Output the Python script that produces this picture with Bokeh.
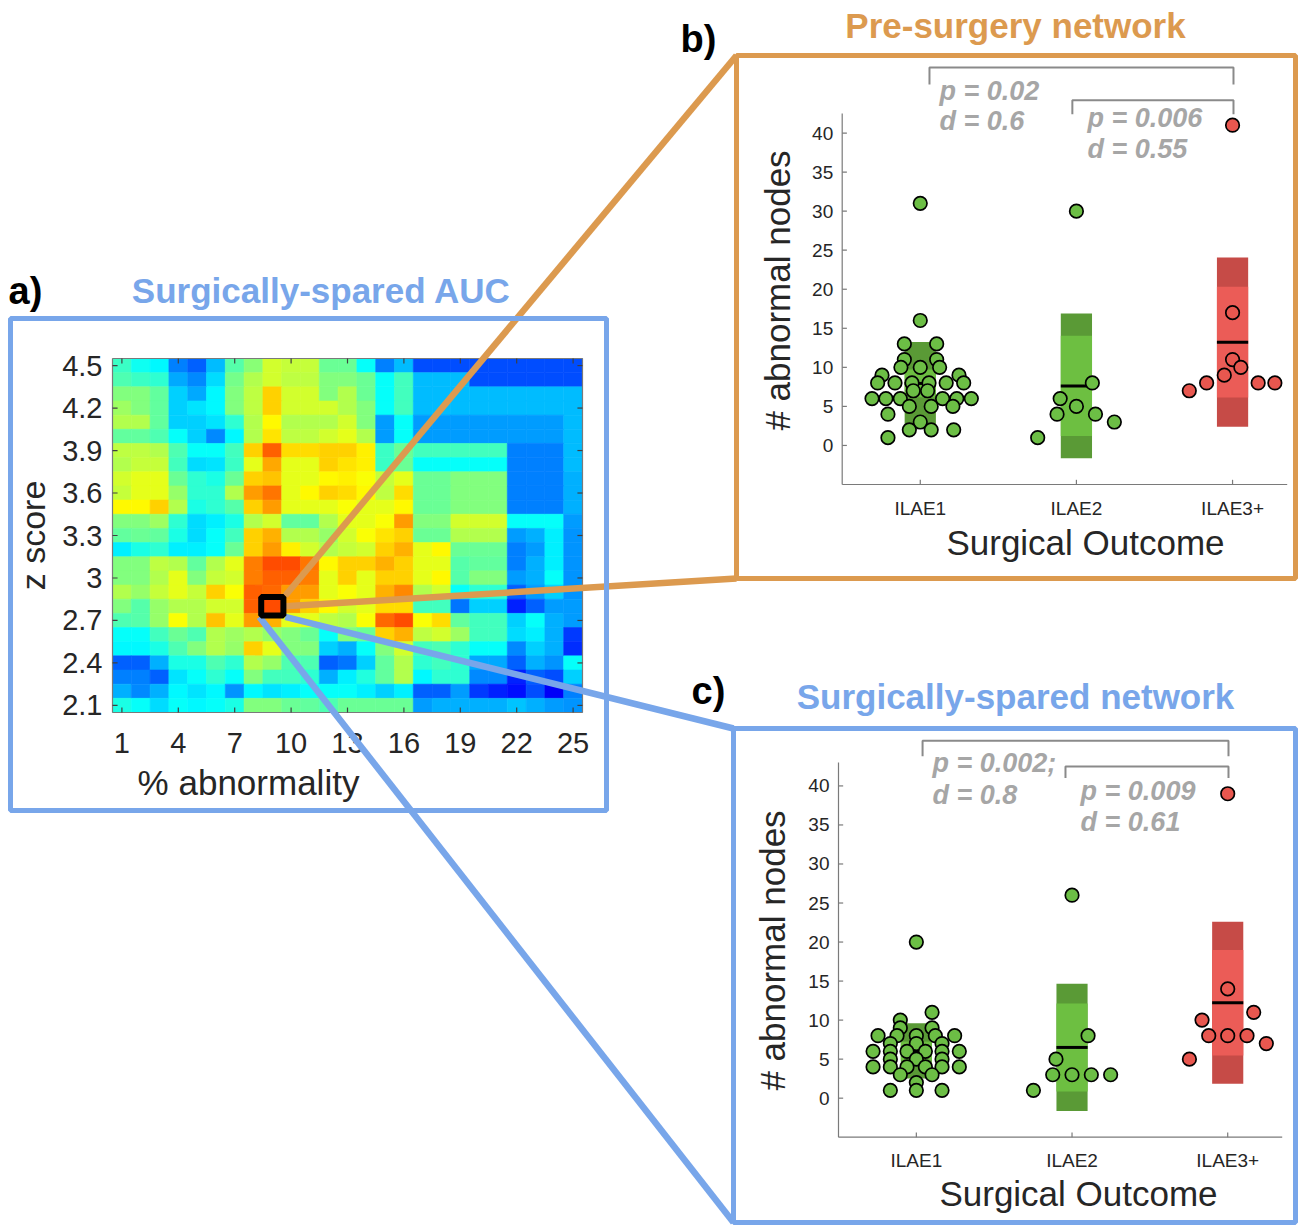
import numpy as np
from bokeh.plotting import figure
from bokeh.models import Range1d, ColumnDataSource, LinearColorMapper
from bokeh.core.properties import value
from bokeh.embed import file_html
from bokeh.resources import INLINE

# ---------------------------------------------------------------- data
pct_abnormality = list(range(1, 26))
z_scores = [4.5, 4.4, 4.3, 4.2, 4.1, 4.0, 3.9, 3.8, 3.7, 3.6, 3.5, 3.4, 3.3,
            3.2, 3.1, 3.0, 2.9, 2.8, 2.7, 2.6, 2.5, 2.4, 2.3, 2.2, 2.1]
# AUC (colour-scaled 0..1), one row per z score (top row = 4.5), one column per % abnormality
auc_rows = [
    [0.43, 0.39, 0.37, 0.25, 0.22, 0.31, 0.46, 0.51, 0.58, 0.57, 0.57, 0.48, 0.48, 0.38, 0.25, 0.31, 0.20, 0.20, 0.20, 0.20, 0.20, 0.20, 0.20, 0.20, 0.20],
    [0.45, 0.43, 0.42, 0.29, 0.26, 0.34, 0.49, 0.55, 0.58, 0.56, 0.56, 0.50, 0.50, 0.48, 0.38, 0.44, 0.31, 0.31, 0.31, 0.20, 0.20, 0.20, 0.20, 0.20, 0.20],
    [0.50, 0.50, 0.47, 0.33, 0.29, 0.37, 0.50, 0.56, 0.67, 0.58, 0.58, 0.50, 0.55, 0.48, 0.38, 0.44, 0.31, 0.31, 0.31, 0.31, 0.31, 0.31, 0.31, 0.31, 0.31],
    [0.53, 0.50, 0.47, 0.33, 0.35, 0.37, 0.50, 0.56, 0.67, 0.58, 0.58, 0.58, 0.55, 0.50, 0.38, 0.44, 0.31, 0.31, 0.31, 0.31, 0.31, 0.31, 0.31, 0.31, 0.31],
    [0.55, 0.55, 0.47, 0.33, 0.33, 0.35, 0.42, 0.55, 0.63, 0.55, 0.55, 0.55, 0.58, 0.50, 0.28, 0.38, 0.28, 0.28, 0.28, 0.28, 0.28, 0.28, 0.28, 0.28, 0.31],
    [0.47, 0.47, 0.45, 0.38, 0.33, 0.26, 0.37, 0.55, 0.65, 0.56, 0.56, 0.58, 0.60, 0.55, 0.28, 0.38, 0.28, 0.28, 0.28, 0.28, 0.28, 0.28, 0.28, 0.28, 0.31],
    [0.56, 0.56, 0.55, 0.45, 0.38, 0.38, 0.44, 0.67, 0.78, 0.66, 0.66, 0.67, 0.67, 0.64, 0.43, 0.48, 0.44, 0.44, 0.44, 0.44, 0.44, 0.25, 0.25, 0.25, 0.31],
    [0.55, 0.57, 0.57, 0.44, 0.34, 0.35, 0.43, 0.60, 0.71, 0.60, 0.60, 0.67, 0.65, 0.64, 0.43, 0.48, 0.38, 0.38, 0.38, 0.38, 0.38, 0.25, 0.25, 0.25, 0.31],
    [0.58, 0.60, 0.60, 0.48, 0.42, 0.40, 0.48, 0.67, 0.68, 0.60, 0.60, 0.63, 0.64, 0.62, 0.57, 0.60, 0.48, 0.48, 0.50, 0.50, 0.50, 0.25, 0.25, 0.25, 0.30],
    [0.57, 0.60, 0.60, 0.52, 0.42, 0.42, 0.55, 0.72, 0.76, 0.60, 0.63, 0.67, 0.66, 0.63, 0.56, 0.66, 0.48, 0.48, 0.50, 0.50, 0.50, 0.25, 0.25, 0.25, 0.30],
    [0.63, 0.63, 0.67, 0.55, 0.40, 0.42, 0.46, 0.67, 0.72, 0.60, 0.60, 0.60, 0.62, 0.60, 0.60, 0.63, 0.48, 0.48, 0.50, 0.50, 0.50, 0.25, 0.25, 0.25, 0.30],
    [0.50, 0.50, 0.53, 0.42, 0.34, 0.36, 0.40, 0.55, 0.58, 0.47, 0.47, 0.55, 0.60, 0.60, 0.62, 0.72, 0.50, 0.50, 0.58, 0.58, 0.58, 0.38, 0.38, 0.38, 0.28],
    [0.47, 0.48, 0.47, 0.40, 0.34, 0.38, 0.44, 0.67, 0.70, 0.55, 0.55, 0.52, 0.58, 0.62, 0.65, 0.67, 0.48, 0.48, 0.55, 0.55, 0.55, 0.28, 0.30, 0.36, 0.27],
    [0.36, 0.40, 0.42, 0.36, 0.36, 0.38, 0.48, 0.67, 0.72, 0.64, 0.58, 0.55, 0.57, 0.58, 0.67, 0.70, 0.60, 0.63, 0.48, 0.48, 0.48, 0.25, 0.28, 0.36, 0.27],
    [0.50, 0.50, 0.56, 0.55, 0.47, 0.55, 0.60, 0.75, 0.80, 0.80, 0.76, 0.63, 0.67, 0.67, 0.70, 0.67, 0.60, 0.60, 0.46, 0.47, 0.47, 0.25, 0.30, 0.36, 0.27],
    [0.50, 0.50, 0.55, 0.60, 0.50, 0.57, 0.58, 0.75, 0.78, 0.78, 0.75, 0.60, 0.67, 0.60, 0.67, 0.67, 0.60, 0.63, 0.46, 0.50, 0.50, 0.28, 0.30, 0.38, 0.27],
    [0.55, 0.52, 0.57, 0.60, 0.57, 0.67, 0.62, 0.78, 0.77, 0.72, 0.72, 0.60, 0.62, 0.60, 0.70, 0.74, 0.55, 0.58, 0.38, 0.42, 0.42, 0.22, 0.28, 0.33, 0.27],
    [0.50, 0.46, 0.52, 0.55, 0.55, 0.58, 0.58, 0.78, 0.80, 0.72, 0.67, 0.63, 0.58, 0.60, 0.66, 0.66, 0.44, 0.44, 0.24, 0.33, 0.33, 0.16, 0.22, 0.28, 0.28],
    [0.45, 0.46, 0.52, 0.62, 0.55, 0.68, 0.60, 0.72, 0.70, 0.60, 0.60, 0.56, 0.55, 0.62, 0.77, 0.80, 0.62, 0.66, 0.47, 0.44, 0.44, 0.33, 0.38, 0.30, 0.28],
    [0.38, 0.38, 0.44, 0.48, 0.45, 0.55, 0.53, 0.55, 0.52, 0.50, 0.48, 0.38, 0.50, 0.48, 0.67, 0.70, 0.56, 0.58, 0.53, 0.44, 0.44, 0.34, 0.36, 0.30, 0.18],
    [0.37, 0.37, 0.40, 0.45, 0.50, 0.55, 0.52, 0.67, 0.60, 0.50, 0.50, 0.33, 0.30, 0.38, 0.50, 0.58, 0.44, 0.45, 0.42, 0.38, 0.38, 0.26, 0.33, 0.30, 0.17],
    [0.22, 0.22, 0.30, 0.40, 0.40, 0.45, 0.42, 0.55, 0.52, 0.45, 0.45, 0.22, 0.24, 0.33, 0.47, 0.55, 0.42, 0.44, 0.42, 0.29, 0.29, 0.22, 0.30, 0.27, 0.38],
    [0.25, 0.25, 0.22, 0.35, 0.38, 0.42, 0.38, 0.50, 0.44, 0.44, 0.42, 0.30, 0.36, 0.41, 0.47, 0.55, 0.37, 0.42, 0.42, 0.26, 0.26, 0.16, 0.22, 0.20, 0.33],
    [0.30, 0.26, 0.30, 0.37, 0.35, 0.37, 0.27, 0.37, 0.35, 0.36, 0.38, 0.38, 0.38, 0.36, 0.33, 0.36, 0.22, 0.22, 0.28, 0.18, 0.16, 0.14, 0.20, 0.12, 0.25],
    [0.40, 0.38, 0.34, 0.38, 0.37, 0.38, 0.40, 0.50, 0.50, 0.48, 0.47, 0.45, 0.48, 0.48, 0.48, 0.48, 0.28, 0.30, 0.30, 0.30, 0.30, 0.32, 0.30, 0.28, 0.27],
]
x_ticks_a = [1, 4, 7, 10, 13, 16, 19, 22, 25]
y_ticks_a = [2.1, 2.4, 2.7, 3.0, 3.3, 3.6, 3.9, 4.2, 4.5]
y_tick_labels_a = ["2.1", "2.4", "2.7", "3", "3.3", "3.6", "3.9", "4.2", "4.5"]
selected_pct = 9
selected_z = 2.8

outcomes = ["ILAE1", "ILAE2", "ILAE3+"]
count_ticks = [0, 5, 10, 15, 20, 25, 30, 35, 40]

# b) pre-surgery network: # abnormal nodes per patient, with swarm offsets
pre_ilae1 = [31, 16, 13, 13, 11, 11, 10, 10, 10, 9, 9, 8, 8, 8, 8, 8, 8, 7, 7,
             6, 6, 6, 6, 6, 6, 5, 5, 5, 4, 3, 2, 2, 2, 1]
pre_ilae1_jit = [0, 0, -0.102, 0.105, -0.102, 0.105, -0.124, 0, 0.124, -0.245, 0.248,
                 -0.273, -0.162, -0.053, 0.056, 0.166, 0.278, -0.045, 0.047,
                 -0.309, -0.220, -0.128, 0.143, 0.234, 0.327, -0.070, 0.070, 0.209,
                 -0.207, 0, -0.070, 0.070, 0.214, -0.207]
pre_ilae2 = [30, 8, 6, 5, 4, 4, 3, 1]
pre_ilae2_jit = [0, 0.102, -0.104, 0, -0.124, 0.122, 0.243, -0.248]
pre_ilae3 = [41, 17, 11, 10, 9, 8, 8, 8, 7]
pre_ilae3_jit = [0, 0, 0, 0.053, -0.053, -0.166, 0.164, 0.271, -0.277]
pre_stats = ["p = 0.02", "d = 0.6", "p = 0.006", "d = 0.55"]

# c) surgically-spared network
spr_ilae1 = [20, 11, 10, 9, 9, 8, 8, 8, 8, 8, 7, 7, 7, 6, 6, 6, 6, 6, 6,
             5, 5, 5, 4, 4, 4, 4, 4, 4, 3, 3, 2, 1, 1, 1]
spr_ilae1_jit = [0, 0.101, -0.103, -0.103, 0.101, -0.246, -0.124, 0, 0.122, 0.246,
                 -0.167, 0, 0.165, -0.278, -0.167, -0.060, 0.058, 0.165, 0.276,
                 -0.167, 0, 0.165, -0.278, -0.167, -0.060, 0.058, 0.165, 0.276,
                 -0.103, 0.101, 0, -0.167, 0, 0.165]
spr_ilae2 = [26, 8, 5, 3, 3, 3, 3, 1]
spr_ilae2_jit = [0, 0.103, -0.103, -0.124, 0, 0.124, 0.248, -0.248]
spr_ilae3 = [39, 14, 11, 10, 8, 8, 8, 7, 5]
spr_ilae3_jit = [0, 0, 0.167, -0.165, -0.122, 0, 0.124, 0.248, -0.246]
spr_stats = ["p = 0.002;", "d = 0.8", "p = 0.009", "d = 0.61"]

# ---------------------------------------------------------------- styles
FONT = value("Liberation Sans")
BLUE = "#78a6ea"
ORANGE = "#dc9a4f"
GREY_TXT = "#a6a6a6"
GREY_BR = "#8a8a8a"
AX = "#7a7a7a"
TXT = "#262626"
GREEN_PT, GREEN_SD, GREEN_CI = "#6cbe45", "#5a9a36", "#6dbf41"
RED_PT, RED_SD, RED_CI = "#e8574f", "#c64b47", "#eb5c57"


def jet_hex(v):
    r = np.clip(1.5 - abs(4 * v - 3), 0, 1)
    g = np.clip(1.5 - abs(4 * v - 2), 0, 1)
    b = np.clip(1.5 - abs(4 * v - 1), 0, 1)
    return "#%02x%02x%02x" % (int(round(r * 255)), int(round(g * 255)), int(round(b * 255)))


JET = [jet_hex(i / 255) for i in range(256)]

W, H = 1298, 1225
p = figure(width=W, height=H, x_range=Range1d(0, W), y_range=Range1d(H, 0),
           output_backend="svg", toolbar_location=None, min_border=0,
           x_axis_location=None, y_axis_location=None,
           background_fill_color="white", border_fill_color="white")
p.grid.visible = False
p.outline_line_color = None


def label(target, x, y, text, size, color=TXT, style="normal", align="center",
          baseline="middle", angle=0.0, x_offset=0, y_offset=0):
    target.text(x=list(x), y=list(y), text=list(text), text_font=FONT,
                text_font_size=f"{size}px", text_color=color, text_font_style=style,
                text_align=align, text_baseline=baseline, angle=angle,
                x_offset=x_offset, y_offset=y_offset)


# ---------------------------------------------------------------- a) heatmap
A_X = (0.5, 25.5)
A_Y = (2.05, 4.55)
A_PX = (112, 582)
A_PY = (712, 358)
sa = p.subplot(x_source=Range1d(*A_X), y_source=Range1d(*A_Y),
               x_target=Range1d(*A_PX), y_target=Range1d(*A_PY))

auc = np.array(auc_rows, dtype=float)
src = ColumnDataSource(dict(
    pct=np.tile(pct_abnormality, len(z_scores)),
    z=np.repeat(z_scores, len(pct_abnormality)),
    auc=auc.ravel(),
))
mapper = LinearColorMapper(palette=JET, low=0, high=1)
sa.rect(x="pct", y="z", width=1, height=0.1, source=src,
        fill_color={"field": "auc", "transform": mapper},
        line_color={"field": "auc", "transform": mapper}, line_width=0.6)

# frame + inward ticks
sa.segment(x0=[A_X[0], A_X[0], A_X[0], A_X[1]], y0=[A_Y[0], A_Y[1], A_Y[0], A_Y[0]],
           x1=[A_X[1], A_X[1], A_X[0], A_X[1]], y1=[A_Y[0], A_Y[1], A_Y[1], A_Y[1]],
           line_color=AX, line_width=1.2)
tx = np.array(x_ticks_a, float)
ty = np.array(y_ticks_a, float)
sa.segment(x0=np.r_[tx, tx], y0=np.r_[np.full(len(tx), A_Y[0]), np.full(len(tx), A_Y[1])],
           x1=np.r_[tx, tx], y1=np.r_[np.full(len(tx), A_Y[0] + 0.035), np.full(len(tx), A_Y[1] - 0.035)],
           line_color="#404040", line_width=1.2)
sa.segment(x0=np.r_[np.full(len(ty), A_X[0]), np.full(len(ty), A_X[1])], y0=np.r_[ty, ty],
           x1=np.r_[np.full(len(ty), A_X[0] + 0.27), np.full(len(ty), A_X[1] - 0.27)], y1=np.r_[ty, ty],
           line_color="#404040", line_width=1.2)
label(sa, [A_X[0]] * len(ty), ty, y_tick_labels_a, 29, align="right", x_offset=-10)
label(sa, tx, [A_Y[0]] * len(tx), [str(t) for t in x_ticks_a], 29, baseline="top", y_offset=20)
label(p, [248], [782], ["% abnormality"], 35)
label(p, [32], [535], ["z score"], 34, angle=np.pi / 2)


def a_to_px(xv, yv):
    fx = A_PX[0] + (xv - A_X[0]) / (A_X[1] - A_X[0]) * (A_PX[1] - A_PX[0])
    fy = A_PY[0] + (yv - A_Y[0]) / (A_Y[1] - A_Y[0]) * (A_PY[1] - A_PY[0])
    return fx, fy


# connecting lines from the selected cell to the panels b) and c)
cl, ct = a_to_px(selected_pct - 0.5, selected_z + 0.05)
cr, cb = a_to_px(selected_pct + 0.5, selected_z - 0.05)
pad = 3.5
B_BOX = (736, 55, 1295, 578)
C_BOX = (733, 728, 1295, 1222)
A_BOX = (10, 318, 606, 810)
p.segment(x0=[cr + pad, cr + pad], y0=[ct - pad, (ct + cb) / 2],
          x1=[B_BOX[0], B_BOX[0]], y1=[B_BOX[1], B_BOX[3]],
          line_color=ORANGE, line_width=6.5)
p.segment(x0=[cr + pad, cl - pad], y0=[cb + pad, cb + pad],
          x1=[C_BOX[0], C_BOX[0]], y1=[C_BOX[1], C_BOX[3]],
          line_color=BLUE, line_width=6.5)
sa.rect(x=[selected_pct], y=[selected_z], width=1.18, height=0.13,
        fill_color=None, line_color="black", line_width=6)

# panel frames and titles
for (l, t, r, b), col in ((A_BOX, BLUE), (B_BOX, ORANGE), (C_BOX, BLUE)):
    p.quad(left=[l], right=[r], top=[t], bottom=[b], fill_color=None,
           line_color=col, line_width=5)
label(p, [8], [290], ["a)"], 38, color="black", style="bold", align="left")
label(p, [321], [290], ["Surgically-spared AUC"], 35, color=BLUE, style="bold")
label(p, [680], [38], ["b)"], 38, color="black", style="bold", align="left")
label(p, [1015], [25], ["Pre-surgery network"], 35, color=ORANGE, style="bold")
label(p, [691], [690], ["c)"], 38, color="black", style="bold", align="left")
label(p, [1015], [696], ["Surgically-spared network"], 35, color=BLUE, style="bold")


# ---------------------------------------------------------------- b), c) strip plots
def strip_panel(xt, yt, ylim, groups, stats, stat_pos, brackets, ylab_pos, xlab_pos):
    xlim = (0.5, 3.35)
    sp = p.subplot(x_source=Range1d(*xlim), y_source=Range1d(*ylim),
                   x_target=Range1d(*xt), y_target=Range1d(*yt))
    # axes
    sp.segment(x0=[xlim[0], xlim[0]], y0=[ylim[0], ylim[0]], x1=[xlim[0], xlim[1]],
               y1=[ylim[1], ylim[0]], line_color=AX, line_width=1.2)
    ct_ = np.array(count_ticks, float)
    sp.segment(x0=np.full(len(ct_), xlim[0]), y0=ct_, x1=np.full(len(ct_), xlim[0] + 0.03),
               y1=ct_, line_color=AX, line_width=1.2)
    sp.segment(x0=[1, 2, 3], y0=[ylim[0]] * 3, x1=[1, 2, 3], y1=[ylim[0] + 0.6] * 3,
               line_color=AX, line_width=1.2)
    label(sp, [xlim[0]] * len(ct_), ct_, [str(c) for c in count_ticks], 19,
          align="right", x_offset=-9)
    label(sp, [1, 2, 3], [ylim[0]] * 3, outcomes, 19, baseline="top", y_offset=13)
    label(p, [ylab_pos[0]], [ylab_pos[1]], ["# abnormal nodes"], 35, angle=np.pi / 2)
    label(p, [xlab_pos[0]], [xlab_pos[1]], ["Surgical Outcome"], 35)
    # groups
    for i, (vals, jit, pt, sd_c, ci_c) in enumerate(groups):
        xc = i + 1
        v = np.array(vals, float)
        m = v.mean()
        sd = v.std(ddof=1)
        ci = 1.96 * sd / np.sqrt(len(v))
        sp.quad(left=[xc - 0.1], right=[xc + 0.1], bottom=[m - sd], top=[m + sd],
                fill_color=sd_c, line_color=None)
        sp.quad(left=[xc - 0.1], right=[xc + 0.1], bottom=[m - ci], top=[m + ci],
                fill_color=ci_c, line_color=None)
        sp.segment(x0=[xc - 0.1], y0=[m], x1=[xc + 0.1], y1=[m], line_color="black",
                   line_width=3)
        sp.scatter(x=xc + np.array(jit), y=v, size=13.5, fill_color=pt,
                   line_color="black", line_width=1.7)
    # significance brackets
    for (xa, xb, yb, ydrop) in brackets:
        sp.multi_line(xs=[[xa, xa, xb, xb]], ys=[[yb - ydrop, yb, yb, yb - ydrop]],
                      line_color=GREY_BR, line_width=2)
    label(sp, [s[0] for s in stat_pos], [s[1] for s in stat_pos], stats, 27,
          color=GREY_TXT, style="bold italic", align="left")


groups_pre = [(pre_ilae1, pre_ilae1_jit, GREEN_PT, GREEN_SD, GREEN_CI),
              (pre_ilae2, pre_ilae2_jit, GREEN_PT, GREEN_SD, GREEN_CI),
              (pre_ilae3, pre_ilae3_jit, RED_PT, RED_SD, RED_CI)]
groups_spr = [(spr_ilae1, spr_ilae1_jit, GREEN_PT, GREEN_SD, GREEN_CI),
              (spr_ilae2, spr_ilae2_jit, GREEN_PT, GREEN_SD, GREEN_CI),
              (spr_ilae3, spr_ilae3_jit, RED_PT, RED_SD, RED_CI)]

strip_panel((841.7, 1286.7), (484, 113), (-5, 42.5), groups_pre, pre_stats,
            [(1.123, 45.4), (1.123, 41.6), (2.071, 41.9), (2.071, 37.9)],
            [(1.059, 3.006, 48.4, 2.2), (1.974, 3.006, 44.2, 1.8)],
            (777, 290), (1085, 542))
strip_panel((838, 1281.7), (1136.7, 762), (-5, 43), groups_spr, spr_stats,
            [(1.104, 42.9), (1.104, 38.9), (2.055, 39.4), (2.055, 35.4)],
            [(1.04, 3.005, 45.8, 2.0), (1.958, 3.005, 42.5, 1.5)],
            (772, 950), (1078, 1193))

open("out.html", "w").write(file_html(p, INLINE))
